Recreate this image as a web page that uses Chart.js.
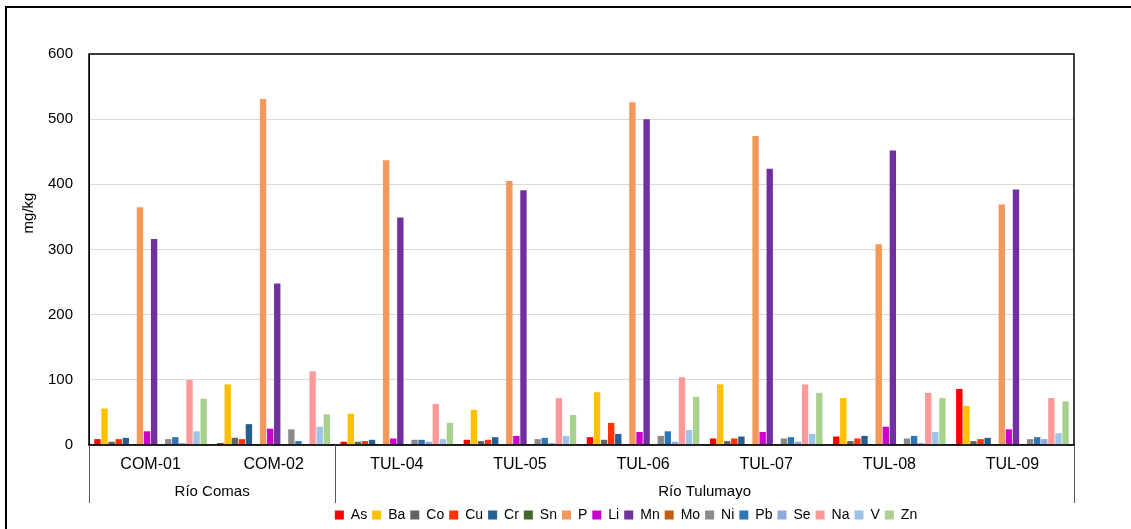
<!DOCTYPE html>
<html lang="es">
<head>
    <meta charset="UTF-8">
    <title>mg/kg por estación</title>
    <script src="https://cdn.jsdelivr.net/npm/chart.js"></script>
    <style>
        body {
            margin: 0;
            padding: 0;
            background: #fff;
        }
        #wrap {
            width: 1131px;
            height: 529px;
        }
    </style>
</head>
<body>
    <div id="wrap">
        <canvas id="chart" width="1131" height="529"></canvas>
    </div>

    <script>
        // data
        const stations = ['COM-01', 'COM-02', 'TUL-04', 'TUL-05', 'TUL-06', 'TUL-07', 'TUL-08', 'TUL-09'];
        const rivers = ['Río Comas', 'Río Tulumayo'];
        const riverSpan = [2, 6];   // how many stations under each river
        const yTicks = [0, 100, 200, 300, 400, 500, 600];
        const yTitle = 'mg/kg';

        const As = [9, 3, 5, 8, 12, 10, 13, 86];
        const Ba = [56, 93, 48, 54, 81, 93, 72, 60];
        const Co = [5, 11, 5, 6, 8, 6, 6, 6];
        const Cu = [9, 9, 6, 8, 34, 10, 10, 9];
        const Cr = [11, 32, 8, 12, 17, 13, 14, 11];
        const Sn = [1, 1, 1, 1, 1, 1, 1, 1];
        const P = [365, 531, 437, 405, 526, 474, 308, 369];
        const Li = [21, 25, 10, 14, 20, 20, 28, 24];
        const Mn = [316, 248, 349, 391, 500, 424, 452, 392];
        const Mo = [1, 1, 1, 1, 1, 1, 1, 1];
        const Ni = [9, 24, 8, 9, 14, 10, 10, 9];
        const Pb = [12, 6, 8, 11, 21, 12, 14, 12];
        const Se = [3, 1, 5, 3, 5, 5, 3, 9];
        const Na = [100, 113, 63, 72, 104, 93, 80, 72];
        const V = [21, 28, 9, 14, 23, 17, 20, 18];
        const Zn = [71, 47, 34, 46, 74, 80, 72, 67];

        const series = [
            ['As', As, '#ff0000'],
            ['Ba', Ba, '#ffc000'],
            ['Co', Co, '#636363'],
            ['Cu', Cu, '#ff3300'],
            ['Cr', Cr, '#255e91'],
            ['Sn', Sn, '#43682b'],
            ['P', P, '#f4975a'],
            ['Li', Li, '#cc00cc'],
            ['Mn', Mn, '#7030a0'],
            ['Mo', Mo, '#c55a11'],
            ['Ni', Ni, '#8a8a8a'],
            ['Pb', Pb, '#2e75b6'],
            ['Se', Se, '#8eaadb'],
            ['Na', Na, '#ff9999'],
            ['V', V, '#9dc3e6'],
            ['Zn', Zn, '#a9d18e']
        ];

        Chart.defaults.font.family = "'Liberation Sans', Arial, sans-serif";
        Chart.defaults.color = '#000';

        // outer frame, plot border, axis title and the second row of category labels
        const decorations = {
            id: 'decorations',
            afterLayout(chart) {
                // the legend sits a bit right of centre and lower in the original
                chart.legend.left += 89;
                chart.legend.right += 89;
                chart.legend.top += 3;
                chart.legend.bottom += 3;
            },
            afterDraw(chart) {
                const ctx = chart.ctx;
                const area = chart.chartArea;
                const x = chart.scales.x;
                ctx.save();

                ctx.strokeStyle = '#000';
                ctx.lineWidth = 2;
                ctx.beginPath();
                ctx.moveTo(6, 529);
                ctx.lineTo(6, 7);
                ctx.lineTo(1131, 7);
                ctx.stroke();

                ctx.lineWidth = 1.5;
                ctx.strokeRect(area.left, area.top, area.right - area.left, area.bottom - area.top);

                ctx.fillStyle = '#000';
                ctx.textAlign = 'center';
                ctx.textBaseline = 'middle';

                // y title, placed a little above the plot's middle like the original
                ctx.save();
                ctx.translate(29, 213);
                ctx.rotate(-Math.PI / 2);
                ctx.font = '15px "Liberation Sans", Arial, sans-serif';
                ctx.fillText(yTitle, 0, 0);
                ctx.restore();

                const half = (x.getPixelForValue(1) - x.getPixelForValue(0)) / 2;
                const lineEnd = 503;
                ctx.strokeStyle = '#595959';
                ctx.lineWidth = 1;
                ctx.font = '15px "Liberation Sans", Arial, sans-serif';

                let start = 0;
                riverSpan.forEach((n, i) => {
                    const left = x.getPixelForValue(start) - half;
                    const right = x.getPixelForValue(start + n - 1) + half;
                    ctx.beginPath();
                    ctx.moveTo(Math.round(left) + 0.5, area.bottom);
                    ctx.lineTo(Math.round(left) + 0.5, lineEnd);
                    ctx.moveTo(Math.round(right) + 0.5, area.bottom);
                    ctx.lineTo(Math.round(right) + 0.5, lineEnd);
                    ctx.stroke();
                    ctx.fillText(rivers[i], (left + right) / 2, 492);
                    start += n;
                });
                ctx.restore();
            }
        };

        new Chart(document.getElementById('chart'), {
            type: 'bar',
            data: {
                labels: stations,
                datasets: series.map(s => ({
                    label: s[0],
                    data: s[1],
                    backgroundColor: s[2],
                    borderWidth: 0,
                    categoryPercentage: 0.92,
                    barPercentage: 0.9
                }))
            },
            options: {
                responsive: false,
                animation: false,
                layout: {
                    padding: { top: 54, right: 57, bottom: 0, left: 0 }
                },
                plugins: {
                    legend: {
                        position: 'bottom',
                        labels: {
                            boxWidth: 9,
                            boxHeight: 9,
                            padding: 5,
                            font: { size: 14 }
                        }
                    },
                    tooltip: { enabled: false }
                },
                scales: {
                    x: {
                        grid: { display: false, drawTicks: false },
                        border: { display: true, color: '#595959', width: 1.5 },
                        ticks: { padding: 10, font: { size: 16 } },
                        afterFit: s => { s.height = 55; }
                    },
                    y: {
                        min: 0,
                        max: 600,
                        afterBuildTicks: s => { s.ticks = yTicks.map(v => ({ value: v })); },
                        afterFit: s => { s.width = 89; },
                        grid: { color: '#d9d9d9', drawTicks: false },
                        border: { display: true, color: '#000' },
                        ticks: { padding: 16, font: { size: 15 } }
                    }
                }
            },
            plugins: [decorations]
        });
    </script>
</body>
</html>
